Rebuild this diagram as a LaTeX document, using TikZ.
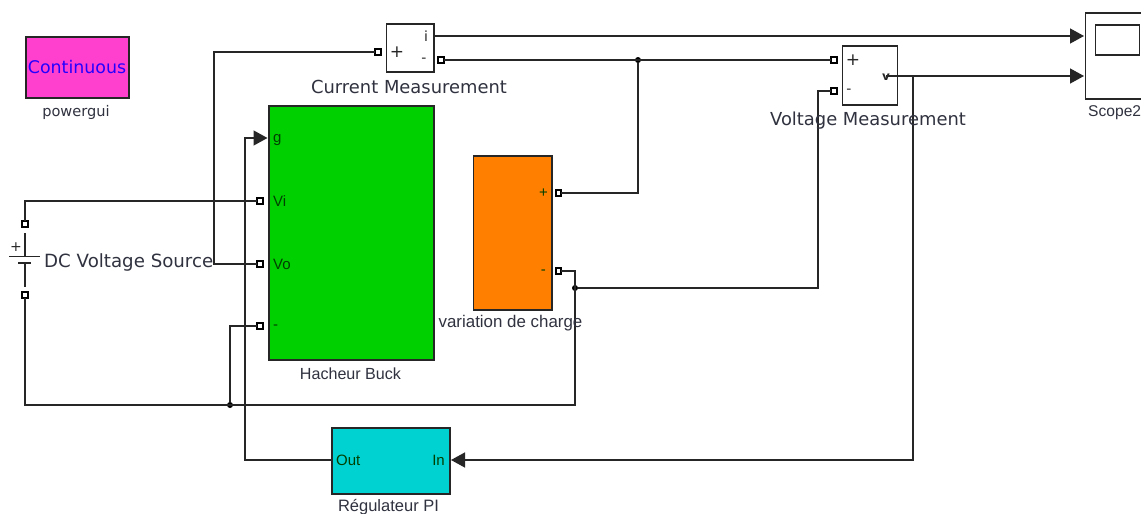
\documentclass[tikz,border=0pt]{standalone}
\usepackage{fontspec}
\setmainfont{DejaVu Sans}
\newfontfamily\smallfont{Liberation Sans}
\usetikzlibrary{arrows.meta}
\definecolor{wirec}{HTML}{262626}
\definecolor{labc}{HTML}{30323F}
\definecolor{magentab}{HTML}{FF40CF}
\definecolor{greenb}{HTML}{00D000}
\definecolor{orangeb}{HTML}{FF8000}
\definecolor{cyanb}{HTML}{00D2D2}
\tikzset{
 block/.style={draw=wirec,line width=1.8pt,inner sep=0pt,outer sep=0pt,anchor=north west},
 wire/.style={draw=wirec,line width=1.4pt,line join=miter},
 sig/.style={wire,-{Triangle[length=14pt,width=15pt]}},
 portn/.style={draw=black,fill=white,line width=1.7pt,minimum size=5.5pt,inner sep=0pt,outer sep=0pt,shape=rectangle},
 junc/.style={fill=black,circle,minimum size=6pt,inner sep=0pt,outer sep=0pt},
 biglab/.style={text=labc,font=\fontsize{17.9}{20}\selectfont,inner sep=0pt},
 smalllab/.style={text=labc,inner sep=0pt},
 tinylab/.style={text=black!75!green,font=\smallfont\fontsize{15}{17}\selectfont,inner sep=0pt},
 signlab/.style={inner sep=0pt,text=wirec}
}
\begin{document}
\begin{tikzpicture}[x=1pt,y=-1pt]
\useasboundingbox[fill=white] (0,0) rectangle (1141,514);
% blocks
\node[block,fill=magentab,minimum width=103.5pt,minimum height=61.5pt] (pg) at (25.7,36.7) {};
\node[block,fill=greenb,minimum width=165.5pt,minimum height=254.5pt] (buck) at (268.7,105.7) {};
\node[block,fill=orangeb,minimum width=78.5pt,minimum height=154.5pt] (load) at (473.4,155.7) {};
\node[block,fill=cyanb,minimum width=118pt,minimum height=65.5pt] (reg) at (331.7,428.2) {};
\node[block,fill=white,minimum width=47.5pt,minimum height=48pt] (cm) at (386.4,24.3) {};
\node[block,fill=white,minimum width=55pt,minimum height=59pt] (vm) at (842.4,46.3) {};
\begin{scope}
\clip (1000,0) rectangle (1141,514);
\node[block,fill=white,minimum width=70pt,minimum height=86pt] (scope) at (1085.4,13.3) {};
\node[block,fill=white,minimum width=44pt,minimum height=30pt] (screen) at (1095.4,25.3) {};
\end{scope}
% ports
\node[portn] (pVi) at (260,201) {};
\node[portn] (pVo) at (260,264) {};
\node[portn] (pM) at (260,326) {};
\node[portn] (pDCt) at (25,224) {};
\node[portn] (pDCb) at (25,295) {};
\node[portn] (pCMp) at (378,52) {};
\node[portn] (pCMm) at (441,60) {};
\node[portn] (pVMp) at (834,60) {};
\node[portn] (pVMm) at (834,91) {};
\node[portn] (pLp) at (558.5,193) {};
\node[portn] (pLm) at (558.5,271) {};
% free points of the wires
\coordinate (inG) at (267.5,138);
\coordinate (inI) at (1084,36);
\coordinate (inV) at (1084,76);
\coordinate (inR) at (451,460);
\coordinate (outI) at (434,36);
\coordinate (outV) at (886,76);
\coordinate (outR) at (331,460);
\node[junc] (j1) at (638,60) {};
\node[junc] (j2) at (575,288) {};
\node[junc] (j3) at (230,405) {};
\coordinate (j4) at (913,76);
% wires
\draw[wire] (pDCt) -- (25,201) -- (pVi);
\draw[wire] (pDCb) -- (25,405) -- (575,405) -- (575,271) -- (pLm);
\draw[wire] (j3) -- (230,326) -- (pM);
\draw[wire] (j2) -- (818,288) -- (818,91) -- (pVMm);
\draw[wire] (pVo) -- (214,264) -- (214,52) -- (pCMp);
\draw[wire] (pCMm) -- (pVMp);
\draw[wire] (j1) -- (638,193) -- (pLp);
\draw[sig] (outI) -- (inI);
\draw[sig] (outV) -- (inV);
\draw[sig] (j4) -- (913,460) -- (inR);
\draw[sig] (outR) -- (245,460) -- (245,138) -- (inG);
% battery
\coordinate (bTop) at (25,233);
\coordinate (bBot) at (25,287);
\draw[wire] (bTop) -- (25,256);
\draw[wire] (9,256.5) -- (40,256.5);
\draw[wire] (18,263) -- (31,263);
\draw[wire] (25,263) -- (bBot);
\node[signlab,font=\fontsize{14}{14}\selectfont] (bplus) at (16,247) {+};
% labels
\node[inner sep=0pt,text=blue!85!magenta,font=\fontsize{17.4}{20}\selectfont] (tCont) at (77,67) {Continuous};
\node[smalllab,font=\fontsize{14.6}{17}\selectfont] (tPg) at (76,112) {powergui};
\node[biglab] (tCM) at (409,86.5) {Current Measurement};
\node[biglab] (tVM) at (868,120.5) {Voltage Measurement};
\node[biglab,anchor=west,font=\fontsize{18.2}{20}\selectfont] (tDC) at (44,262) {DC Voltage Source};
\node[smalllab,font=\smallfont\fontsize{16.1}{18}\selectfont] (tHB) at (350.5,373.5) {Hacheur Buck};
\node[smalllab,font=\smallfont\fontsize{16.9}{19}\selectfont] (tVC) at (510.5,323.5) {variation de charge};
\node[smalllab,font=\smallfont\fontsize{16.5}{18}\selectfont] (tRP) at (388.5,507) {Régulateur PI};
\node[smalllab,font=\smallfont\fontsize{15.6}{18}\selectfont,anchor=west] (tSc) at (1088,112.5) {Scope2};
% port labels
\node[tinylab,anchor=west] (lg) at (273,140) {g};
\node[tinylab,anchor=west] (lVi) at (273,201) {Vi};
\node[tinylab,anchor=west] (lVo) at (273,264) {Vo};
\node[tinylab,anchor=west] (lm) at (273,327) {-};
\node[tinylab,anchor=east] (llp) at (548,193) {+};
\node[tinylab,anchor=east] (llm) at (546,272) {-};
\node[tinylab,anchor=west] (lOut) at (336,460) {Out};
\node[tinylab,anchor=east] (lIn) at (445,460) {In};
\node[signlab,font=\fontsize{17}{19}\selectfont] (cmP) at (397,52) {+};
\node[signlab,font=\fontsize{14}{16}\selectfont] (cmI) at (426,36) {i};
\node[signlab,font=\fontsize{14}{16}\selectfont] (cmM) at (424,60) {-};
\node[signlab,font=\fontsize{17}{19}\selectfont] (vmP) at (853,60) {+};
\node[signlab,font=\fontsize{14}{16}\selectfont] (vmM) at (849,91) {-};
\node[signlab,font=\bfseries\fontsize{12}{14}\selectfont] (vmV) at (886,77) {v};
\end{tikzpicture}
\end{document}
